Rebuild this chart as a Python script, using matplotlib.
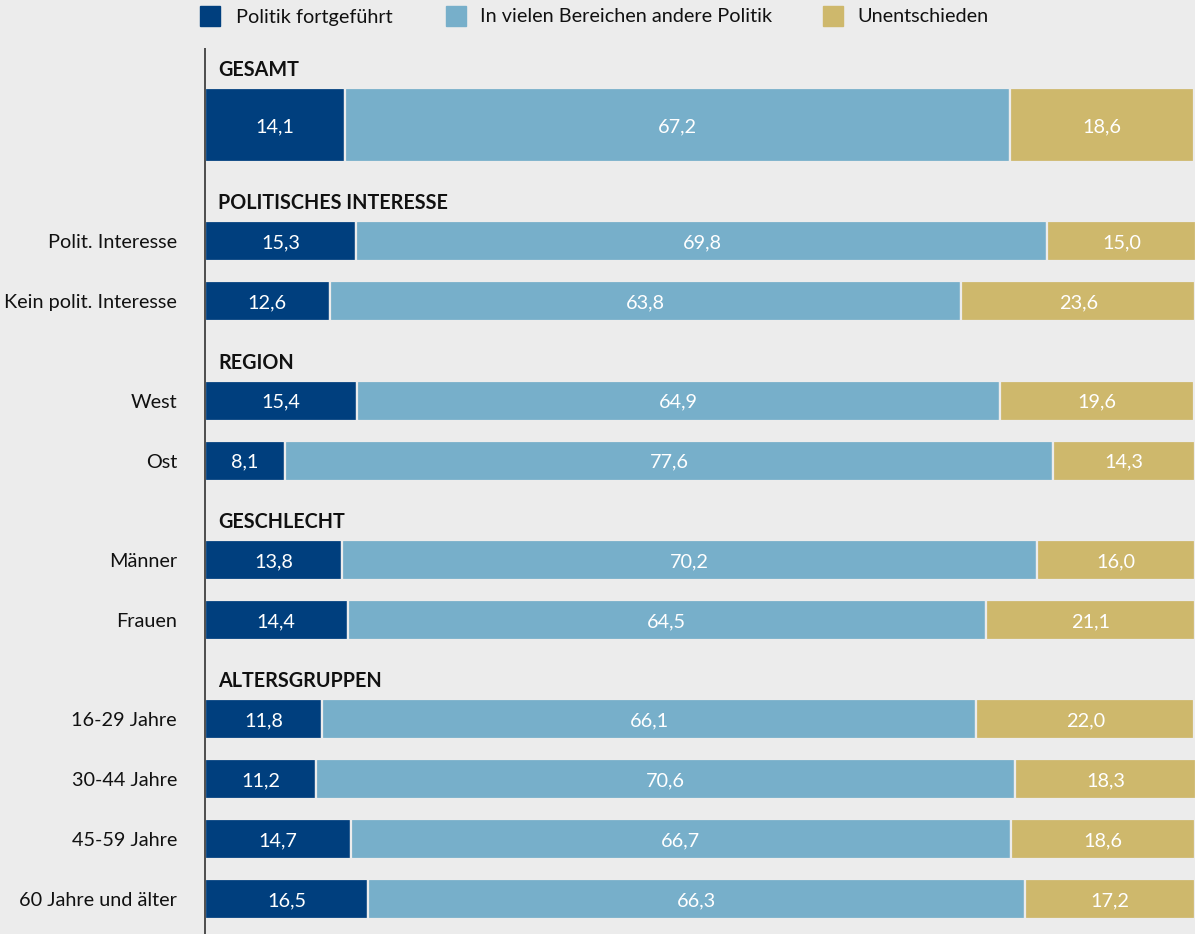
import matplotlib
matplotlib.use("Agg")
import matplotlib.pyplot as plt
from matplotlib.patches import Rectangle

plt.rcParams['font.family'] = ['Lato', 'DejaVu Sans']

series_names = ["Politik fortgeführt", "In vielen Bereichen andere Politik", "Unentschieden"]
colors = ["#003f7e", "#77afca", "#ceb86c"]
bg = "#ececec"

groups = ["GESAMT", "POLITISCHES INTERESSE", "REGION", "GESCHLECHT", "ALTERSGRUPPEN"]
group_rows = [
    [""],
    ["Polit. Interesse", "Kein polit. Interesse"],
    ["West", "Ost"],
    ["Männer", "Frauen"],
    ["16-29 Jahre", "30-44 Jahre", "45-59 Jahre", "60 Jahre und älter"],
]
fortgefuehrt = [14.1, 15.3, 12.6, 15.4, 8.1, 13.8, 14.4, 11.8, 11.2, 14.7, 16.5]
andere = [67.2, 69.8, 63.8, 64.9, 77.6, 70.2, 64.5, 66.1, 70.6, 66.7, 66.3]
unentschieden = [18.6, 15.0, 23.6, 19.6, 14.3, 16.0, 21.1, 22.0, 18.3, 18.6, 17.2]

W, H = 1195, 934
fig = plt.figure(figsize=(W / 100, H / 100), dpi=100, facecolor=bg)
ax = fig.add_axes([205 / W, 0, (W - 205) / W, 1])
ax.set_facecolor(bg)
ax.set_xlim(0, 100)
ax.set_ylim(H, 0)
for s in ax.spines.values():
    s.set_visible(False)
ax.set_xticks([])
ax.set_yticks([])

# layout (pixel units)
header_y = 68.5
row_h = 40
first_h = 74
row_pitch = 60
header_to_bar = 19.5
bar_to_header = 39.8
txt_dy = 1.5
px = 100 / 990  # data units per pixel horizontally

y = header_y
idx = 0
for g, rows in zip(groups, group_rows):
    ax.text(13 * px, y + txt_dy, g, fontsize=14.2, fontweight='bold', color='#111111',
            va='center', ha='left')
    top = y + header_to_bar
    for r_i, lab in enumerate(rows):
        h = first_h if g == "GESAMT" else row_h
        c = top + h / 2
        vals = [fortgefuehrt[idx], andere[idx], unentschieden[idx]]
        left = 0
        for v, col in zip(vals, colors):
            ax.barh(c, v, left=left, height=h, color=col, edgecolor=bg, linewidth=1.6)
            ax.text(left + v / 2, c + txt_dy, f"{v:.1f}".replace('.', ','), color='white',
                    fontsize=14.3, ha='center', va='center')
            left += v
        if lab:
            ax.text(-28 * px, c + txt_dy, lab, fontsize=14.3, ha='right', va='center',
                    color='#111111', clip_on=False)
        idx += 1
        last_bottom = top + h
        top += row_pitch
    y = last_bottom + bar_to_header

ax.plot([0, 0], [48, H], color='#333333', lw=1.2, clip_on=False, solid_capstyle='butt')

# legend
sq_x = [200, 446, 823]
txt_x = [236, 480, 857]
for sx, tx, name, col in zip(sq_x, txt_x, series_names, colors):
    fig.patches.append(Rectangle((sx / W, 1 - 26 / H), 20 / W, 20 / H, transform=fig.transFigure,
                                 color=col, figure=fig))
    fig.text(tx / W, 1 - 17 / H, name, fontsize=14.3, va='center', ha='left',
             color='#111111')

fig.savefig("out.png", dpi=100, facecolor=bg)
